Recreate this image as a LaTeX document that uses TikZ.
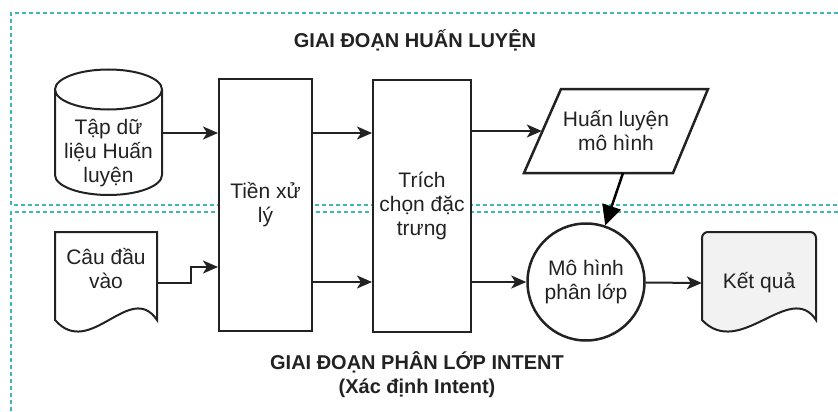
\documentclass[tikz,border=0pt]{standalone}
\usepackage{fontspec}
\setmainfont{Liberation Sans}
\usetikzlibrary{arrows.meta,calc}
\definecolor{phaseteal}{RGB}{64,184,178}
\definecolor{inkgray}{RGB}{34,34,34}
\definecolor{resultgray}{RGB}{242,242,242}
\tikzset{
  phaseline/.style={phaseteal,line width=2pt,dash pattern=on 4pt off 3pt},
  shapeline/.style={draw=inkgray,line width=2pt},
  procbox/.style={draw=inkgray,line width=2pt,fill=white,align=center,
    text=inkgray,font=\fontsize{21}{24}\selectfont},
  plaintext/.style={align=center,text=inkgray,inner sep=0pt,
    font=\fontsize{21}{24}\selectfont},
  phasetitle/.style={align=center,text=inkgray,
    font=\bfseries\fontsize{20}{24}\selectfont},
  flowarrow/.style={draw=inkgray,line width=2pt,
    -{Stealth[length=15pt,width=13pt,inset=4pt]}},
  bigarrow/.style={draw=black,line width=2.5pt,
    -{Triangle[length=20pt,width=19pt]}}
}
\begin{document}
\begin{tikzpicture}[x=1pt,y=-1pt]
  \useasboundingbox (0,0) rectangle (838,412);
  % phase frames
  \draw[phaseline] (838,13) -- (11,13) -- (11,205) -- (838,205);
  \draw[phaseline] (838,212) -- (11,212) -- (11,412);
  % data store, input/output shapes
  \draw[shapeline] (55,89.5) -- (55,175)
    arc[start angle=180,end angle=0,x radius=53.5,y radius=20] -- (162,89.5);
  \draw[shapeline] (108.5,89.5) ellipse[x radius=53.5,y radius=20];
  \draw[shapeline] (55,320) -- (55,232) -- (157,232) -- (157,320)
    .. controls (130,280) and (90,360) .. (55,320) -- cycle;
  \draw[shapeline,fill=resultgray] (702,320) [rounded corners=6pt] -- (702,232)
    -- (816,232) [sharp corners] -- (816,320)
    .. controls (790,280) and (740,360) .. (702,320) -- cycle;
  \draw[shapeline,line width=2.5pt,fill=white]
    (561,89) -- (708,89) -- (673,173) -- (524,173) -- cycle;

  \node[phasetitle] (train) at (415,40) {GIAI ĐOẠN HUẤN LUYỆN};
  \node[phasetitle] (classify) at (417,375)
    {GIAI ĐOẠN PHÂN LỚP INTENT\\(Xác định Intent)};

  \node[plaintext,minimum width=107pt] (tdl) at (108.5,153) {Tập dữ\\liệu Huấn\\luyện};
  \node[plaintext,minimum width=102pt] (cau) at (106,269) {Câu đầu\\vào};
  \node[procbox,minimum width=93pt,minimum height=252pt] (tien) at (265.5,205) {Tiền xử\\lý};
  \node[procbox,minimum width=98pt,minimum height=252pt] (trich) at (422,206)
    {Trích\\chọn đặc\\trưng};
  \node[plaintext,minimum width=148pt] (hl) at (616,131) {Huấn luyện\\mô hình};
  \node[procbox,circle,line width=2.5pt,minimum size=117pt,inner sep=0pt]
    (mh) at (586,282) {Mô hình\\phân lớp};
  \node[plaintext,minimum width=114pt] (kq) at (759,283) {Kết quả};

  \coordinate (tdl-out) at ([yshift=20pt]tdl.east);
  \coordinate (cau-out) at ([yshift=-14pt]cau.east);
  \coordinate (tien-in) at ([yshift=-62pt]tien.west);
  \coordinate (hl-out) at ($(hl.center)+(7,42)$);

  \draw[flowarrow] (tdl-out) -- (tdl-out -| tien.west);
  \draw[flowarrow] (tien.east |- tdl-out) -- (trich.west |- tdl-out);
  \draw[flowarrow] (trich.east |- hl.west) -- (hl.west);
  \draw[bigarrow] (hl-out) -- (mh);
  \draw[flowarrow] (cau-out) -- ++(34,0) |- (tien-in);
  \draw[flowarrow] (tien.east |- mh) -- (trich.west |- mh);
  \draw[flowarrow] (trich.east |- mh) -- (mh);
  \draw[flowarrow] (mh) -- (kq.west);
\end{tikzpicture}
\end{document}
